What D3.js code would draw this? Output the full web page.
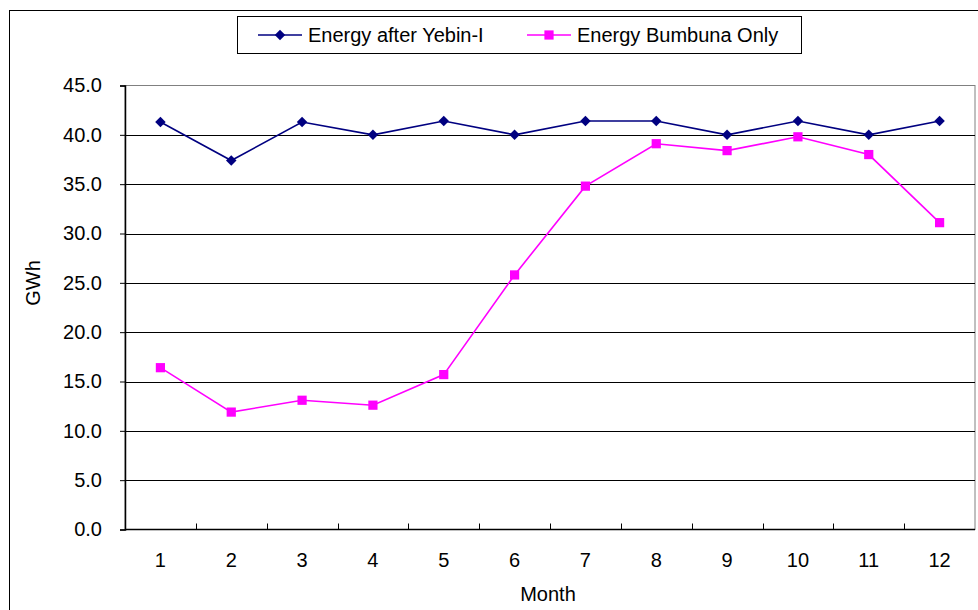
<!DOCTYPE html>
<html>
<head>
<meta charset="utf-8">
<script src="https://cdn.jsdelivr.net/npm/d3@7"></script>
<style>
  html, body { margin: 0; padding: 0; background: #fff; }
  svg { display: block; font-family: "Liberation Sans", Arial, sans-serif; }
</style>
</head>
<body>
<svg id="chart" width="978" height="610"></svg>
<script>
// Monthly energy output (GWh)
const months = ["1", "2", "3", "4", "5", "6", "7", "8", "9", "10", "11", "12"];
const energyAfterYebin = [41.3, 37.4, 41.3, 40.0, 41.4, 40.0, 41.4, 41.4, 40.0, 41.4, 40.0, 41.4];
const energyBumbunaOnly = [16.4, 11.9, 13.1, 12.6, 15.7, 25.8, 34.8, 39.1, 38.4, 39.8, 38.0, 31.1];
const yTicks = [0, 5, 10, 15, 20, 25, 30, 35, 40, 45];
const seriesNames = ["Energy after Yebin-I", "Energy Bumbuna Only"];

const svg = d3.select("#chart");
const plot = { left: 125, right: 975, top: 85.5, bottom: 529.5 };

const x = d3.scaleBand().domain(months).range([plot.left, plot.right]);
const y = d3.scaleLinear().domain([0, 45]).range([plot.bottom, plot.top]);

// Outer chart frame
svg.append("rect")
  .attr("x", 9.5).attr("y", 10.5).attr("width", 990).attr("height", 620)
  .attr("fill", "#fff").attr("stroke", "#000").attr("stroke-width", 1);

// Plot area frame (grey top/right)
svg.append("rect")
  .attr("x", plot.left).attr("y", plot.top)
  .attr("width", plot.right - plot.left).attr("height", plot.bottom - plot.top)
  .attr("fill", "#fff").attr("stroke", "#808080").attr("stroke-width", 1);

// Horizontal gridlines
svg.append("g").selectAll("line")
  .data(yTicks.filter(d => d > 0 && d < 45))
  .join("line")
  .attr("x1", plot.left).attr("x2", plot.right)
  .attr("y1", d => Math.round(y(d)) + 0.5).attr("y2", d => Math.round(y(d)) + 0.5)
  .attr("stroke", "#000").attr("stroke-width", 1);

// Y axis
const yAxis = d3.axisLeft(y).tickValues(yTicks).tickFormat(d3.format(".1f")).tickSize(5).tickPadding(18);
const gy = svg.append("g").attr("transform", `translate(${plot.left},0)`).call(yAxis);
gy.select(".domain").attr("stroke", "#000").attr("stroke-width", 1.5);
gy.selectAll(".tick line").attr("stroke", "#000");
gy.selectAll(".tick text").attr("font-size", 20).attr("fill", "#000")
  .attr("font-family", "Liberation Sans, Arial, sans-serif");

// X axis with ticks between categories
const gx = svg.append("g").attr("transform", `translate(0,${plot.bottom})`);
gx.append("line")
  .attr("x1", plot.left).attr("x2", plot.right)
  .attr("y1", 0).attr("y2", 0)
  .attr("stroke", "#000").attr("stroke-width", 1.5);
gx.selectAll("line.tk")
  .data(months.slice(1))
  .join("line").attr("class", "tk")
  .attr("x1", d => Math.round(x(d)) + 0.5).attr("x2", d => Math.round(x(d)) + 0.5)
  .attr("y1", 0).attr("y2", -6)
  .attr("stroke", "#000");
gx.selectAll("text")
  .data(months)
  .join("text")
  .attr("x", d => x(d) + x.bandwidth() / 2)
  .attr("y", 37)
  .attr("text-anchor", "middle")
  .attr("font-size", 20)
  .text(d => d);

// Axis titles
svg.append("text")
  .attr("x", 548).attr("y", 601)
  .attr("text-anchor", "middle").attr("font-size", 20)
  .text("Month");
svg.append("text")
  .attr("transform", "translate(40,283) rotate(-90)")
  .attr("text-anchor", "middle").attr("font-size", 20)
  .text("GWh");

// Series
const colors = ["#000080", "#FF00FF"];
const cx = i => x(months[i]) + x.bandwidth() / 2;
const line = d3.line().x((d, i) => cx(i)).y(d => y(d));

const diamond = d3.symbol().type(d3.symbolDiamond2).size(70);
const square = d3.symbol().type(d3.symbolSquare).size(85);
const markers = [diamond, square];

[energyAfterYebin, energyBumbunaOnly].forEach((vals, s) => {
  svg.append("path")
    .datum(vals)
    .attr("d", line)
    .attr("fill", "none")
    .attr("stroke", colors[s])
    .attr("stroke-width", 1.6);
  svg.append("g").selectAll("path")
    .data(vals)
    .join("path")
    .attr("transform", (d, i) => `translate(${cx(i)},${y(d)})`)
    .attr("d", markers[s]())
    .attr("fill", colors[s]);
});

// Legend
const legend = svg.append("g");
legend.append("rect")
  .attr("x", 237.5).attr("y", 16.5).attr("width", 564).attr("height", 37)
  .attr("fill", "#fff").attr("stroke", "#000");
const legendItems = [
  { lx: 258, tx: 308 },
  { lx: 527, tx: 577 }
];
legendItems.forEach((it, s) => {
  legend.append("line")
    .attr("x1", it.lx).attr("x2", it.lx + 44)
    .attr("y1", 35).attr("y2", 35)
    .attr("stroke", colors[s]).attr("stroke-width", 1.6);
  legend.append("path")
    .attr("transform", `translate(${it.lx + 22},35)`)
    .attr("d", markers[s]())
    .attr("fill", colors[s]);
  legend.append("text")
    .attr("x", it.tx).attr("y", 42)
    .attr("font-size", 20)
    .text(seriesNames[s]);
});
</script>
</body>
</html>
